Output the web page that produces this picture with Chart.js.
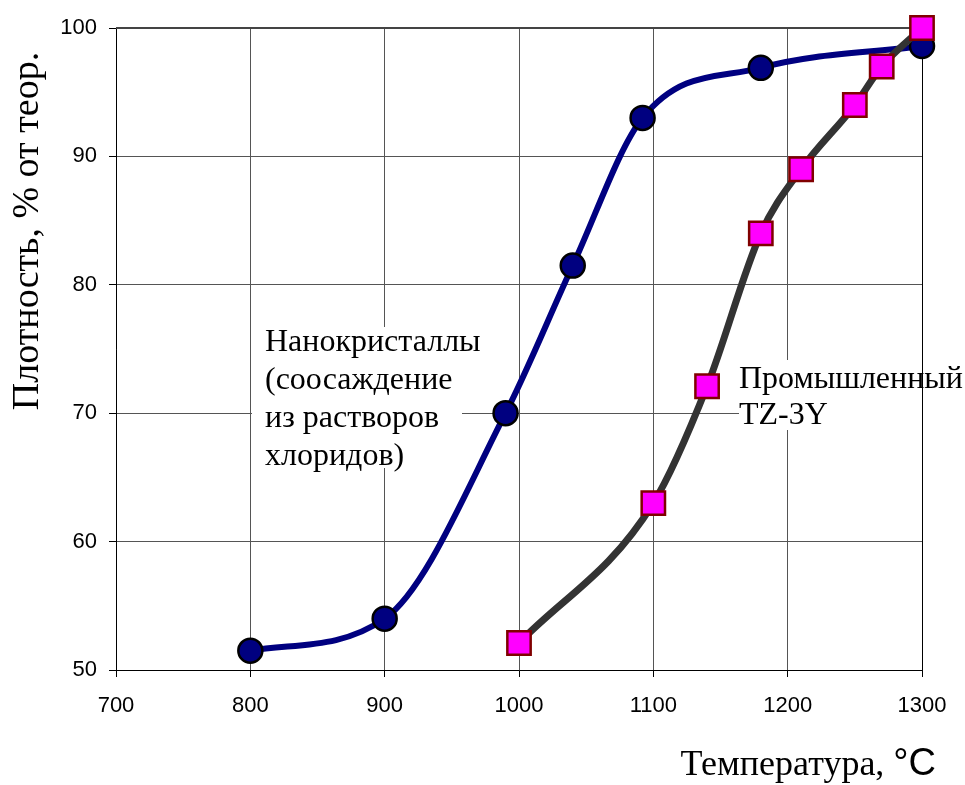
<!DOCTYPE html>
<html>
<head>
<meta charset="utf-8">
<script src="https://cdn.jsdelivr.net/npm/chart.js@4.4.1/dist/chart.umd.min.js"></script>
<style>
  html, body { margin: 0; padding: 0; background: #fff; }
  #wrap { width: 965px; height: 785px; position: relative; }
</style>
</head>
<body>
<div id="wrap"><canvas id="c" width="965" height="785"></canvas></div>
<script>
// Density vs sintering temperature
const nanoTemps = [800, 900, 990, 1040, 1092, 1180, 1300];
const nanoDensity = [51.5, 54.0, 70.0, 81.5, 93.0, 96.9, 98.6];

const tzTemps = [1000, 1100, 1140, 1180, 1210, 1250, 1270, 1300];
const tzDensity = [52.1, 63.0, 72.1, 84.0, 89.0, 94.0, 97.0, 100.0];

const xTicks = [700, 800, 900, 1000, 1100, 1200, 1300];
const yTicks = [50, 60, 70, 80, 90, 100];

const nanoLabel = ['Нанокристаллы', '(соосаждение', 'из растворов', 'хлоридов)'];
const tzLabel = ['Промышленный', 'TZ-3Y'];

const toPoints = (xs, ys) => xs.map((x, i) => ({ x, y: ys[i] }));

const serif = '"Liberation Serif", "Times New Roman", serif';
const sans = '"Liberation Sans", Arial, sans-serif';

// Frame, text boxes and axis titles
const decor = {
  id: 'decor',
  beforeDatasetsDraw(chart) {
    const { ctx, chartArea: a } = chart;
    ctx.save();
    // white boxes behind the annotations
    ctx.fillStyle = '#fff';
    ctx.fillRect(252, 327, 210, 141);
    ctx.fillRect(739, 360, 226, 70);
    // top and right frame
    ctx.lineWidth = 2;
    ctx.strokeStyle = '#444';
    ctx.beginPath();
    ctx.moveTo(a.left, a.top);
    ctx.lineTo(a.right, a.top);
    ctx.stroke();
    ctx.lineWidth = 1;
    ctx.strokeStyle = '#000';
    ctx.beginPath();
    ctx.moveTo(a.right + 0.5, a.top);
    ctx.lineTo(a.right + 0.5, a.bottom);
    ctx.stroke();
    ctx.restore();
  },
  afterDraw(chart) {
    const { ctx } = chart;
    ctx.save();
    ctx.fillStyle = '#000';
    ctx.textBaseline = 'alphabetic';
    ctx.textAlign = 'left';
    ctx.font = '32px ' + serif;
    nanoLabel.forEach((t, i) => ctx.fillText(t, 265, 351 + i * 38));
    tzLabel.forEach((t, i) => ctx.fillText(t, 739, 388 + i * 36));

    // x-axis title
    const part1 = 'Температура, ';
    ctx.font = '36px ' + serif;
    const w1 = ctx.measureText(part1).width;
    ctx.font = '38px ' + sans;
    const w2 = ctx.measureText('°C').width;
    const xEnd = 936;
    const xStart = xEnd - w1 - w2;
    ctx.font = '36px ' + serif;
    ctx.fillText(part1, xStart, 775);
    ctx.font = '38px ' + sans;
    ctx.fillText('°C', xStart + w1, 775);

    // y-axis title
    ctx.translate(38, 231);
    ctx.rotate(-Math.PI / 2);
    ctx.textAlign = 'center';
    ctx.font = '38px ' + serif;
    ctx.fillText('Плотность, % от теор.', 0, 0);
    ctx.restore();
  }
};

new Chart(document.getElementById('c'), {
  type: 'line',
  data: {
    datasets: [
      {
        label: 'TZ-3Y',
        data: toPoints(tzTemps, tzDensity),
        borderColor: '#333333',
        borderWidth: 7,
        cubicInterpolationMode: 'monotone',
        pointStyle: 'rect',
        pointRadius: 16.5,
        pointBackgroundColor: '#ff00ff',
        pointBorderColor: '#800000',
        pointBorderWidth: 2.5,
        clip: false
      },
      {
        label: 'nano',
        data: toPoints(nanoTemps, nanoDensity),
        borderColor: '#000080',
        borderWidth: 6,
        cubicInterpolationMode: 'monotone',
        pointStyle: 'circle',
        pointRadius: 12,
        pointBackgroundColor: '#000080',
        pointBorderColor: '#000000',
        pointBorderWidth: 2.5,
        clip: false
      }
    ]
  },
  options: {
    responsive: false,
    animation: false,
    events: [],
    layout: { padding: { left: 0, right: 43, top: 28, bottom: 0 } },
    plugins: { legend: { display: false }, tooltip: { enabled: false } },
    scales: {
      x: {
        type: 'linear',
        min: 700, max: 1300,
        afterBuildTicks(s) { s.ticks = xTicks.map(v => ({ value: v })); },
        afterFit(s) { s.height = 115; },
        ticks: { font: { family: sans, size: 22 }, color: '#000', padding: 16, maxRotation: 0,
                 callback: v => String(v) },
        grid: { color: '#555', lineWidth: 1, tickLength: 7, tickColor: '#000' },
        border: { color: '#000', width: 1 }
      },
      y: {
        min: 50, max: 100,
        afterBuildTicks(s) { s.ticks = yTicks.map(v => ({ value: v })); },
        afterFit(s) { s.width = 116; },
        ticks: { font: { family: sans, size: 22 }, color: '#000', padding: 12,
                 callback: v => String(v) },
        grid: { color: '#555', lineWidth: 1, tickLength: 7, tickColor: '#000' },
        border: { color: '#000', width: 1 }
      }
    }
  },
  plugins: [decor]
});
</script>
</body>
</html>
